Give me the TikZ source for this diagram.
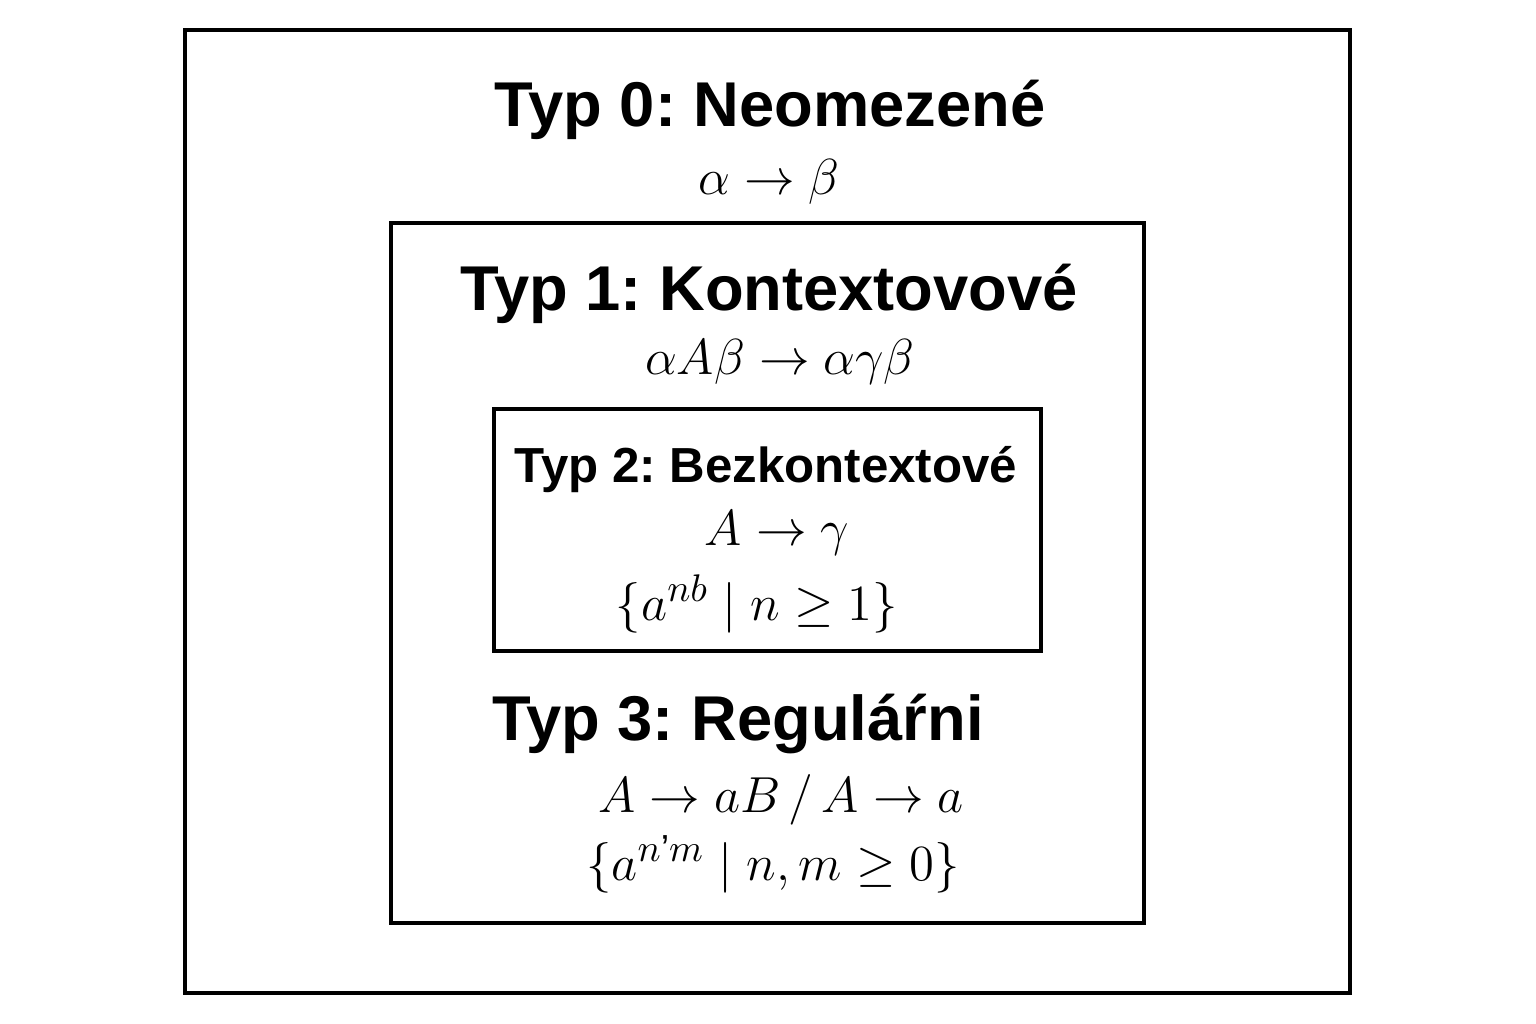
\documentclass[tikz,border=0pt]{standalone}
\usepackage{amsmath}
\usepackage{fontspec}
\setmainfont{Liberation Sans}
\usetikzlibrary{positioning}
\frenchspacing

\begin{document}
\begin{tikzpicture}[x=0.01cm, y=-0.01cm,
    level/.style={draw, line width=1.1pt},
    heading/.style={anchor=base, inner sep=0pt, font=\fontsize{18}{21}\selectfont\bfseries},
    subheading/.style={heading, font=\fontsize{14}{17}\selectfont\bfseries},
    rulebox/.style={anchor=base, inner sep=0pt, font=\fontsize{15.3}{18}\selectfont}]
  \useasboundingbox (0,0) rectangle (1536,1024);

  % nested grammar classes
  \draw[level] (185,30) rectangle (1350,993);
  \draw[level] (391,223) rectangle (1144,923);
  \draw[level] (494,409) rectangle (1041,651);

  \node[heading] (t0) at (770,126) {Typ 0: Neomezené};
  \node[rulebox] (r0) at (769,194) {$\alpha \to \beta$};

  \node[heading] (t1) at (769,310) {Typ 1: Kontextovové};
  \node[rulebox] (r1) at (780,374) {$\alpha A\beta \to \alpha\gamma\beta$};

  \node[subheading] (t2) at (766,482) {Typ 2: Bezkontextové};
  \node[rulebox] (r2) at (777,545) {$A \to \gamma$};
  \node[rulebox] (l2) at (757,620) {$\{a^{nb} \mid n \geq 1\}$};

  \node[heading] (t3) at (738,740) {Typ 3: Reguláŕni};
  \node[rulebox] (r3) at (781,812) {$A \to aB \,/\, A \to a$};
  \node[rulebox] (l3) at (773,880) {$\{a^{n\text{'}m} \mid n,m \geq 0\}$};
\end{tikzpicture}
\end{document}
